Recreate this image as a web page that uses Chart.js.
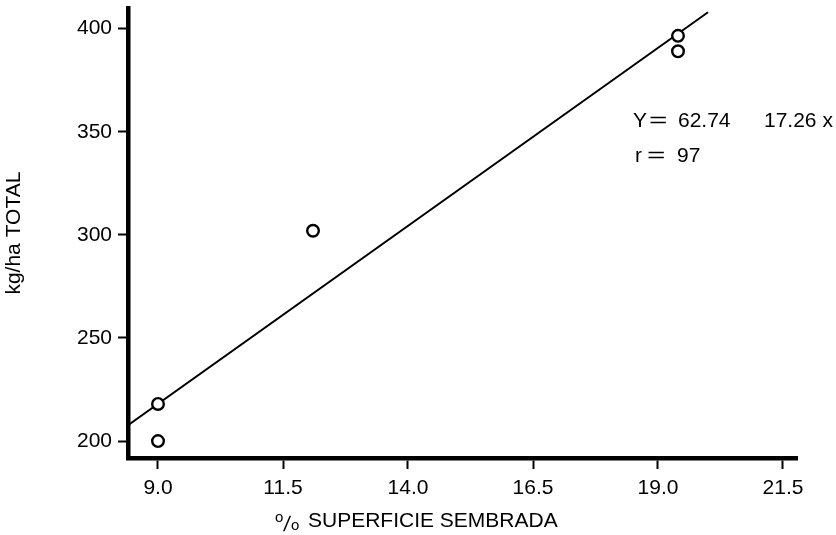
<!DOCTYPE html>
<html>
<head>
<meta charset="utf-8">
<script src="https://cdn.jsdelivr.net/npm/chart.js@4"></script>
<style>
  body { margin: 0; background: #fff; }
  #wrap { width: 836px; height: 535px; position: relative; }
</style>
</head>
<body>
<div id="wrap"><canvas id="chart"></canvas></div>
<script>
// Observed plots: % of area sown vs total kg/ha
const sownPct = [9.0, 9.0, 12.1, 19.4, 19.4];
const totalKgHa = [218, 200, 302, 396.5, 389];

// Axis ticks
const xTicks = [9.0, 11.5, 14.0, 16.5, 19.0, 21.5];
const yTicks = [200, 250, 300, 350, 400];

// Regression Y = a + b x, drawn over this x span
const fitCoef = [62.74, 17.26];
const fitSpan = [8.4, 20.0];

const FONT = "'Liberation Sans', Arial, sans-serif";

const fitPoints = fitSpan.map(x => ({ x: x, y: fitCoef[0] + fitCoef[1] * x }));
const obsPoints = sownPct.map((x, i) => ({ x: x, y: totalKgHa[i] }));

// a wide "=" like the typewriter one
function drawEquals(ctx, x, y) {
    ctx.save();
    ctx.translate(x, y);
    ctx.scale(1.5, 1);
    ctx.fillText('=', 0, 0);
    ctx.restore();
}

// Equation text and the x-axis title with its raised "o"
const annotations = {
    id: 'annotations',
    afterDraw(chart) {
        const ctx = chart.ctx;
        const xs = chart.scales.x, ys = chart.scales.y;
        ctx.save();
        ctx.fillStyle = '#000';
        ctx.textBaseline = 'alphabetic';
        ctx.textAlign = 'left';
        ctx.font = '21px ' + FONT;

        const ex = xs.getPixelForValue(18.5);
        const row1 = ys.getPixelForValue(352.5);
        const row2 = ys.getPixelForValue(335.5);
        ctx.fillText('Y', ex, row1);
        drawEquals(ctx, ex + 16, row1);
        ctx.fillText(fitCoef[0].toFixed(2), ex + 45, row1);
        ctx.fillText(fitCoef[1].toFixed(2) + ' x', ex + 131, row1);
        ctx.fillText('r', ex + 2, row2);
        drawEquals(ctx, ex + 14, row2);
        ctx.fillText('97', ex + 44, row2);

        // x title: "o/o" percent sign, then the words
        const base = 527;
        ctx.font = '15px ' + FONT;
        ctx.fillText('o', 275, base - 5);
        ctx.save();
        ctx.translate(283, base + 4);
        ctx.transform(1, 0, -0.15, 1, 0, 0);
        ctx.font = '21px ' + FONT;
        ctx.fillText('/', 0, 0);
        ctx.restore();
        ctx.font = '15px ' + FONT;
        ctx.fillText('o', 291, base + 3);
        ctx.font = '21px ' + FONT;
        ctx.fillText('SUPERFICIE SEMBRADA', 308, base);
        ctx.restore();
    }
};

const ctx = document.getElementById('chart').getContext('2d');
new Chart(ctx, {
    type: 'scatter',
    data: {
        datasets: [
            {
                type: 'line',
                data: fitPoints,
                borderColor: '#000',
                borderWidth: 2,
                pointRadius: 0,
                fill: false,
                order: 2
            },
            {
                data: obsPoints,
                pointRadius: 5.8,
                pointBorderWidth: 2.4,
                pointBackgroundColor: '#fff',
                pointBorderColor: '#000',
                order: 1
            }
        ]
    },
    options: {
        responsive: true,
        maintainAspectRatio: false,
        animation: false,
        layout: { padding: { top: 8, right: 39 } },
        plugins: {
            legend: { display: false },
            tooltip: { enabled: false }
        },
        scales: {
            x: {
                type: 'linear',
                min: 8.4,
                max: 21.78,
                afterBuildTicks: function(scale) {
                    scale.ticks = xTicks.map(v => ({ value: v }));
                },
                afterFit: function(scale) {
                    scale.height = 77;
                    scale.paddingLeft = 0;
                    scale.paddingRight = 0;
                },
                border: { color: '#000', width: 4.5 },
                grid: {
                    drawOnChartArea: false,
                    color: '#000',
                    tickLength: 11,
                    tickWidth: 2
                },
                ticks: {
                    color: '#000',
                    padding: 7,
                    font: { family: FONT, size: 21 },
                    callback: v => v.toFixed(1)
                }
            },
            y: {
                type: 'linear',
                min: 191.8,
                max: 409.9,
                afterBuildTicks: function(scale) {
                    scale.ticks = yTicks.map(v => ({ value: v }));
                },
                afterFit: function(scale) {
                    scale.width = 128;
                    scale.paddingTop = 0;
                    scale.paddingBottom = 0;
                },
                border: { color: '#000', width: 4.5 },
                grid: {
                    drawOnChartArea: false,
                    color: '#000',
                    tickLength: 10,
                    tickWidth: 2
                },
                ticks: {
                    color: '#000',
                    padding: 6,
                    font: { family: FONT, size: 21 }
                },
                title: {
                    display: true,
                    text: 'kg/ha TOTAL',
                    color: '#000',
                    font: { family: FONT, size: 21 },
                    padding: { top: 2, bottom: 0 }
                }
            }
        }
    },
    plugins: [annotations]
});
</script>
</body>
</html>
